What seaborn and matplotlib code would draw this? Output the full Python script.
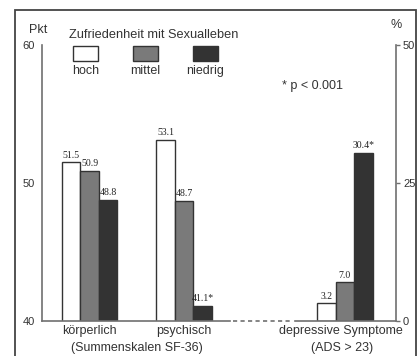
"""Zufriedenheit mit Sexualleben vs. SF-36 und depressive Symptome."""

import matplotlib
matplotlib.use('Agg')
import matplotlib.pyplot as plt
from matplotlib.patches import Rectangle
import pandas as pd
import seaborn as sns

groups = ['hoch', 'mittel', 'niedrig']
group_colors = ['#ffffff', '#7a7a7a', '#333333']

sf36_scales = ['körperlich', 'psychisch']
sf36_hoch = [51.5, 53.1]
sf36_mittel = [50.9, 48.7]
sf36_niedrig = [48.8, 41.1]
sf36_sig = [[False, False], [False, False], [False, True]]

ads_scale = ['depressive Symptome']
ads_hoch = [3.2]
ads_mittel = [7.0]
ads_niedrig = [30.4]
ads_sig = [[False], [False], [True]]

W, H = 419, 356
EDGE = '#333333'
AXC = '#707070'
TXT = '#333333'

sns.set_style('white')
plt.rcParams['font.family'] = ['Liberation Sans', 'DejaVu Sans']


def _long(scales, series):
    rows = []
    for g, vals in zip(groups, series):
        for s, v in zip(scales, vals):
            rows.append({'skala': s, 'gruppe': g, 'wert': v})
    return pd.DataFrame(rows)


def _fx(px):
    return px / W


def _fy(py):
    return 1 - py / H


df_sf = _long(sf36_scales, [sf36_hoch, sf36_mittel, sf36_niedrig])
df_ads = _long(ads_scale, [ads_hoch, ads_mittel, ads_niedrig])

fig = plt.figure(figsize=(W / 100, H / 100), dpi=100)
rect = [_fx(42), _fy(321), _fx(396) - _fx(42), _fy(45) - _fy(321)]
ax = fig.add_axes(rect)
ax2 = fig.add_axes(rect)
ax2.patch.set_alpha(0)

for a, df, sig in [(ax, df_sf, sf36_sig), (ax2, df_ads, ads_sig)]:
    sns.barplot(data=df, x='skala', y='wert', hue='gruppe', hue_order=groups,
                palette=group_colors, width=0.585, edgecolor=EDGE,
                linewidth=1, legend=False, ax=a)
    for cont, g, flags in zip(a.containers, groups, sig):
        vals = df.loc[df['gruppe'] == g, 'wert'].tolist()
        labels = [f'{v:.1f}' + ('*' if f else '') for v, f in zip(vals, flags)]
        a.bar_label(cont, labels=labels, padding=2, fontsize=7,
                    family='Liberation Serif', color='#222222')
    a.set_xlabel('')
    a.set_ylabel('')

# 94.5 px per category unit on both axes
ax.set_xlim(-0.503, 3.243)
ax2.set_xlim(-3.206, 0.540)
ax.set_ylim(40, 60)
ax2.set_ylim(0, 50)

ax.set_yticks([40, 50, 60])
ax2.set_yticks([0, 25, 50])
ax2.yaxis.tick_right()

for a in (ax, ax2):
    a.tick_params(axis='x', length=0, pad=3, labelsize=9, labelcolor=TXT)
    a.tick_params(axis='y', length=3, width=1, color=AXC, labelsize=8,
                  labelcolor=TXT, direction='out', pad=2)
    a.spines['top'].set_visible(False)
    for sp in a.spines.values():
        sp.set_color(AXC)
        sp.set_linewidth(1.2)

ax.spines['right'].set_visible(False)
ax2.spines['left'].set_visible(False)
ax.spines['bottom'].set_bounds(-0.503, 1.487)
ax2.spines['bottom'].set_bounds(-0.529, 0.540)
ax.plot([1.52, 2.12], [40, 40], color=AXC, lw=1.2, ls=(0, (2.5, 2)),
        clip_on=False)

# shift the ADS tick label slightly left, clear of the right "0"
ax2.set_xticks([-0.04])
ax2.set_xticklabels(ads_scale)

ax.annotate('(Summenskalen SF-36)', xy=(0.5, 0),
            xycoords=('data', 'axes fraction'), xytext=(0, -27),
            textcoords='offset pixels', ha='center', va='center',
            fontsize=9, color=TXT)
ax2.annotate('(ADS > 23)', xy=(-0.03, 0),
             xycoords=('data', 'axes fraction'), xytext=(0, -27),
             textcoords='offset pixels', ha='center', va='center',
             fontsize=9, color=TXT)

fig.text(_fx(38), _fy(30), 'Pkt', ha='center', va='center', fontsize=9,
         color=TXT)
fig.text(_fx(396), _fy(25), '%', ha='center', va='center', fontsize=9,
         color=TXT)
fig.text(_fx(312), _fy(86), '* p < 0.001', ha='center', va='center',
         fontsize=9, color=TXT)

# legend drawn by hand: title, boxes, labels below
fig.text(_fx(69), _fy(35), 'Zufriedenheit mit Sexualleben', ha='left',
         va='center', fontsize=9.2, color=TXT)
for x0, g, c in zip([73, 133, 193], groups, group_colors):
    fig.add_artist(Rectangle((_fx(x0), _fy(61)), _fx(25), _fy(46) - _fy(61),
                             transform=fig.transFigure, facecolor=c,
                             edgecolor=EDGE, lw=1))
    fig.text(_fx(x0 + 12.5), _fy(71), g, ha='center', va='center',
             fontsize=9, color=TXT)

fig.add_artist(Rectangle((_fx(15), -0.05), _fx(416) - _fx(15),
                         _fy(10) + 0.05, transform=fig.transFigure,
                         fill=False, edgecolor='#444444', lw=1.3))

fig.savefig('out.png', dpi=100)
plt.close(fig)
